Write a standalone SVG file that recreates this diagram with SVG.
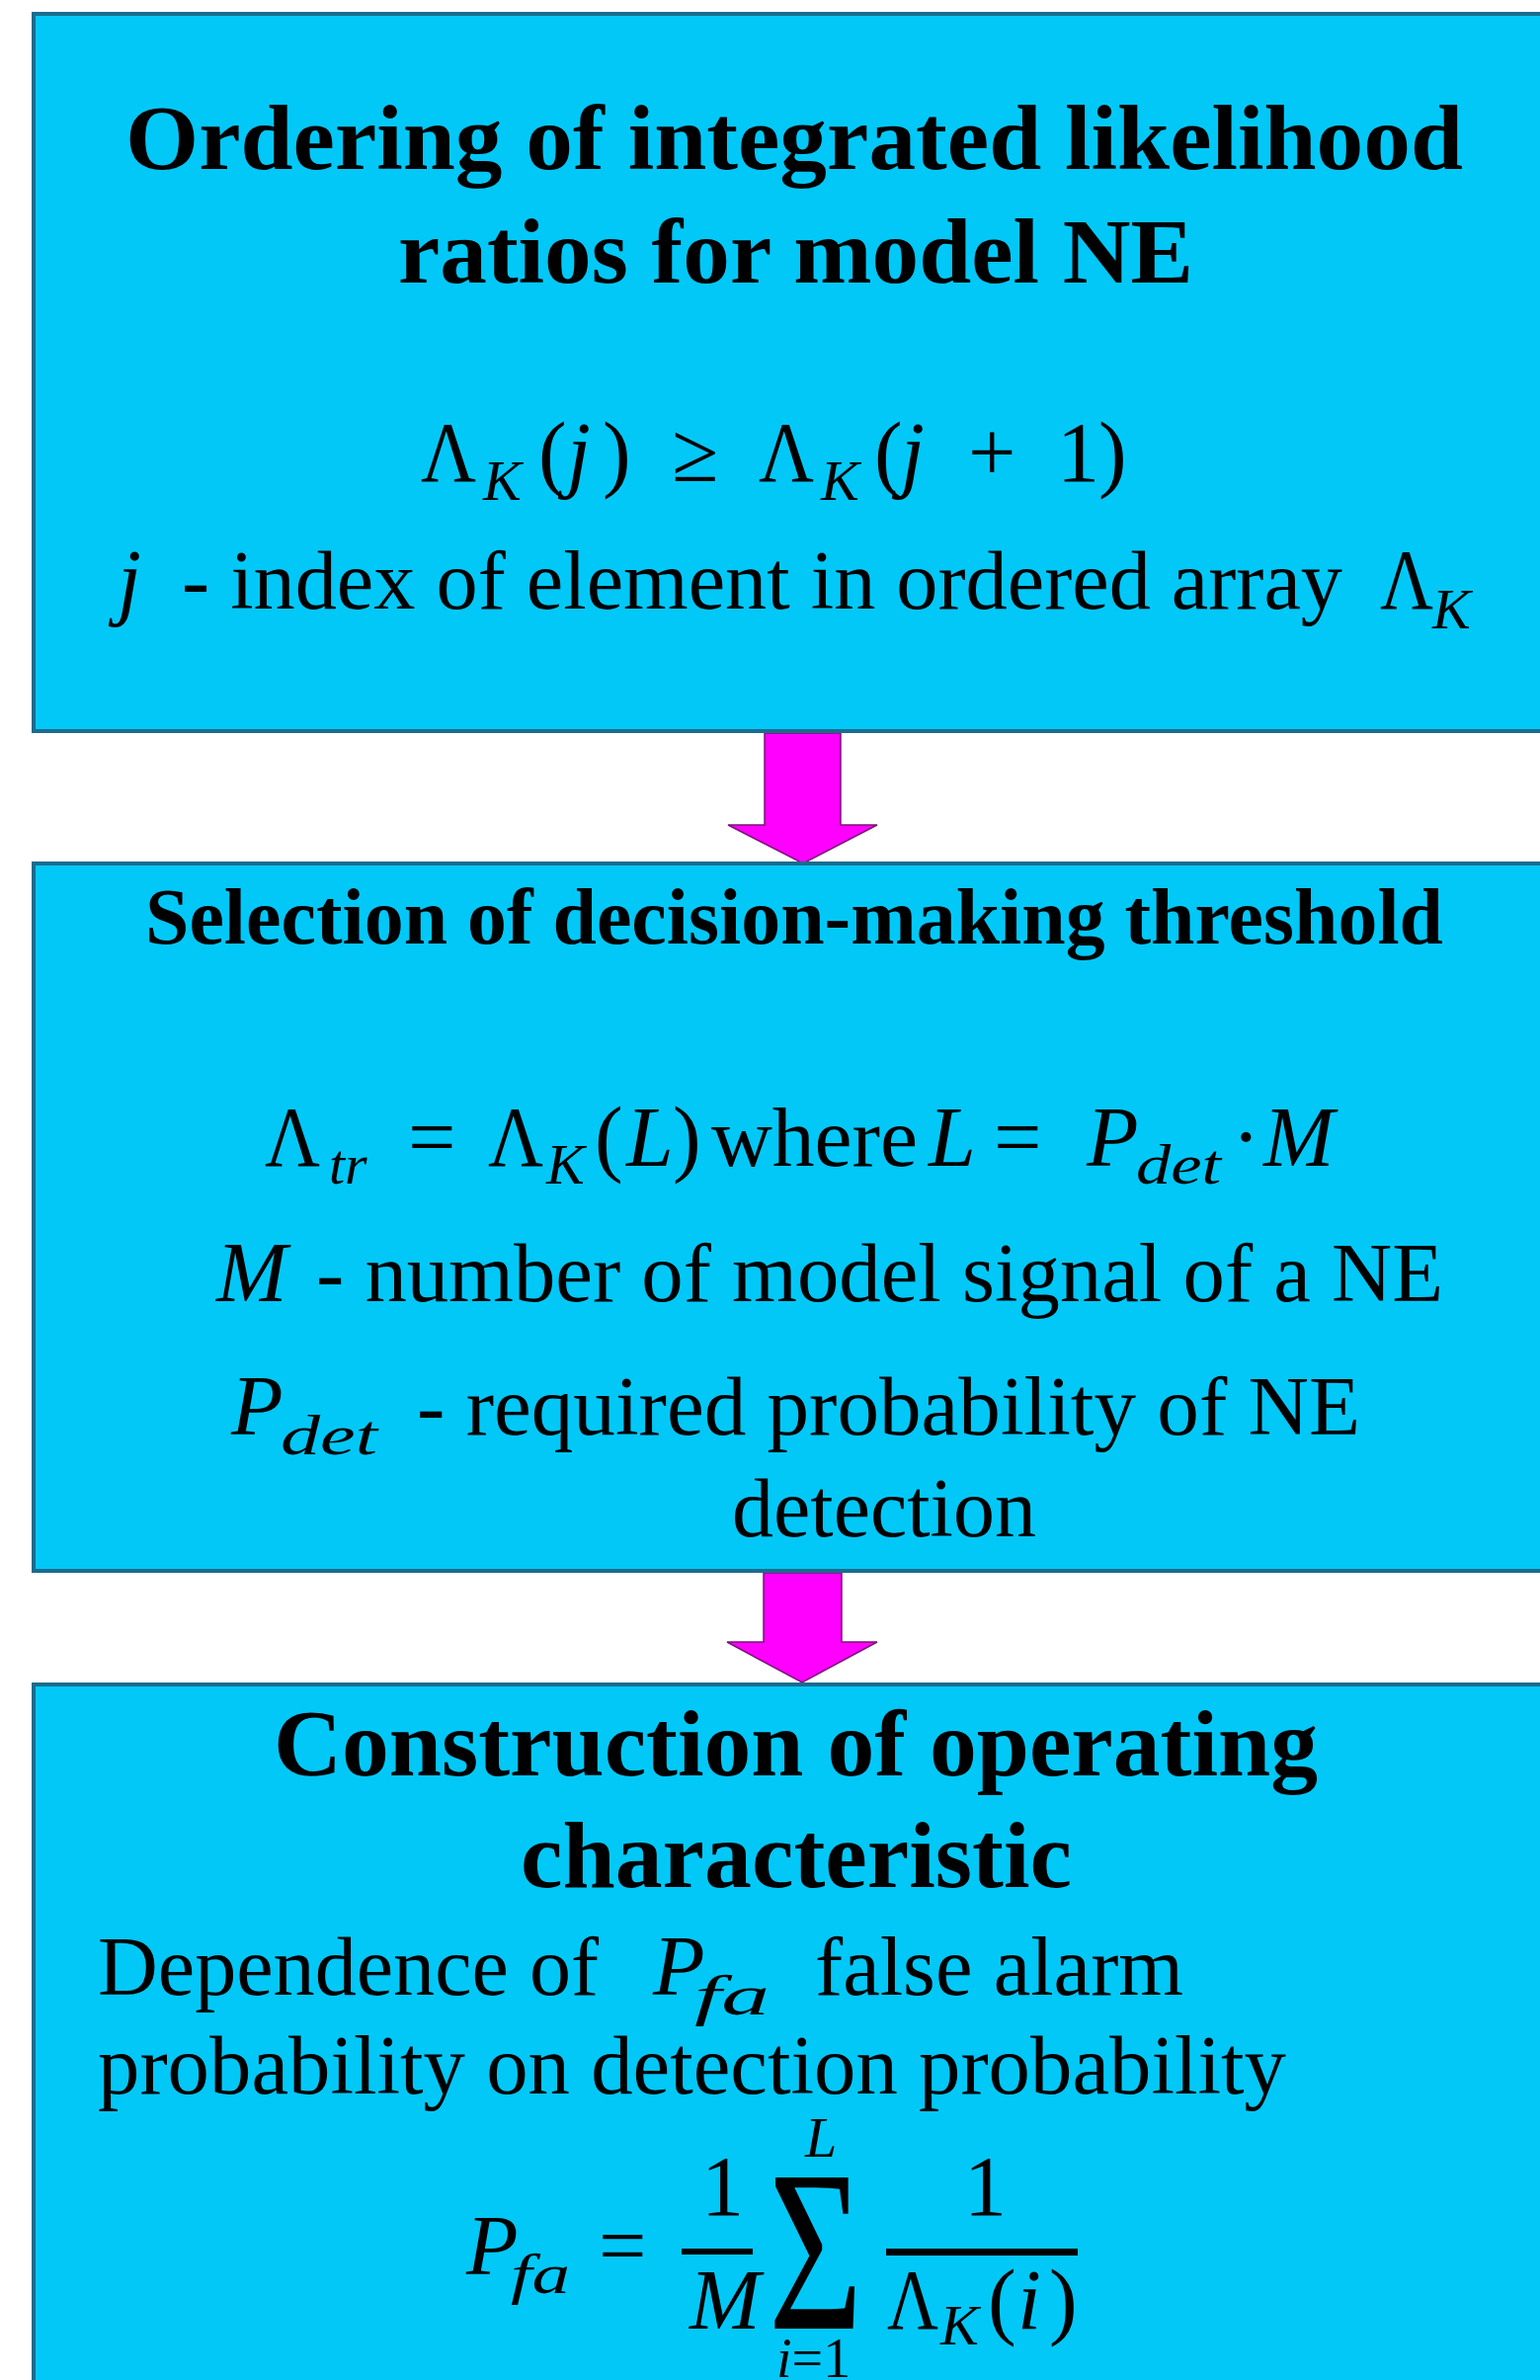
<svg xmlns="http://www.w3.org/2000/svg" width="1559" height="2409" viewBox="0 0 1559 2409">
<style>
.box{fill:#02C8F8;stroke:#1B6C8E;stroke-width:4}
.arr{fill:#FF00FF;stroke:#7A1478;stroke-width:1.5}
text{font-family:"Liberation Serif","Times New Roman",serif;fill:#000}
.b{font-weight:bold}
.i{font-style:italic}
.r{font-size:85px}
.m{font-size:86px}
.s{font-size:58px;font-style:italic}
</style>
<rect width="1559" height="2409" fill="#FFFFFF"/>
<g id="connectors">
<path class="arr" d="M774,742 L851,742 L851,835 L888,835 L813,874 L737,835 L774,835 Z"/>
<path class="arr" d="M773,1592 L852,1592 L852,1662 L888,1662 L812,1703 L736,1662 L773,1662 Z"/>
</g>
<g id="node1">
<rect class="box" x="34" y="14" width="1560" height="726"/>
<text class="b" x="127" y="171" font-size="93" textLength="1354" lengthAdjust="spacingAndGlyphs">Ordering of integrated likelihood</text>
<text class="b" x="403" y="286" font-size="93" textLength="805" lengthAdjust="spacingAndGlyphs">ratios for model NE</text>
<text class="m" x="426" y="487" textLength="56" lengthAdjust="spacingAndGlyphs">Λ</text>
<text class="m" y="487"><tspan x="545">(</tspan><tspan x="574" class="i">j</tspan><tspan x="610">)</tspan><tspan x="680">≥</tspan><tspan x="885">(</tspan><tspan x="912" class="i">j</tspan><tspan x="980">+</tspan><tspan x="1070">1</tspan><tspan x="1112">)</tspan></text>
<text class="m" x="768" y="487" textLength="56" lengthAdjust="spacingAndGlyphs">Λ</text>
<text class="s" y="506"><tspan x="489">K</tspan><tspan x="831">K</tspan></text>
<text class="m i" x="119" y="616">j</text>
<text class="r" x="184" y="616" textLength="1175" lengthAdjust="spacingAndGlyphs">- index of element in ordered array</text>
<text class="m" x="1397" y="616" textLength="54" lengthAdjust="spacingAndGlyphs">Λ</text>
<text class="s" x="1450" y="636">K</text>
</g>
<g id="node2">
<rect class="box" x="34" y="874" width="1560" height="716"/>
<text class="b" x="147" y="955" font-size="80" textLength="1314" lengthAdjust="spacingAndGlyphs">Selection of decision-making threshold</text>
<text class="m" x="268" y="1180" textLength="56" lengthAdjust="spacingAndGlyphs">Λ</text>
<text class="m" x="494" y="1180" textLength="56" lengthAdjust="spacingAndGlyphs">Λ</text>
<text class="m" y="1180"><tspan x="413">=</tspan><tspan x="602">(</tspan><tspan x="634" class="i">L</tspan><tspan x="681">)</tspan><tspan x="940" class="i">L</tspan><tspan x="1006">=</tspan><tspan x="1100" class="i">P</tspan><tspan x="1247">·</tspan><tspan x="1279" class="i">M</tspan></text>
<text class="r" x="720" y="1180" textLength="209" lengthAdjust="spacingAndGlyphs">where</text>
<text class="s" y="1198"><tspan x="333">tr</tspan><tspan x="553">K</tspan></text>
<text class="s" x="1150" y="1198" font-size="62" textLength="86" lengthAdjust="spacingAndGlyphs">det</text>
<text class="m i" x="219" y="1317">M</text>
<text class="r" x="320" y="1317" textLength="1141" lengthAdjust="spacingAndGlyphs">- number of model signal of a NE</text>
<text class="m i" x="234" y="1452">P</text>
<text class="s" x="284" y="1472" font-size="72" textLength="98" lengthAdjust="spacingAndGlyphs">det</text>
<text class="r" x="422" y="1452" textLength="955" lengthAdjust="spacingAndGlyphs">- required probability of NE</text>
<text class="r" x="741" y="1555" textLength="308" lengthAdjust="spacingAndGlyphs">detection</text>
</g>
<g id="node3">
<rect class="box" x="34" y="1705" width="1560" height="740"/>
<text class="b" x="277" y="1797" font-size="96" textLength="1057" lengthAdjust="spacingAndGlyphs">Construction of operating</text>
<text class="b" x="527" y="1910" font-size="96" textLength="558" lengthAdjust="spacingAndGlyphs">characteristic</text>
<text class="r" x="99" y="2019" textLength="507" lengthAdjust="spacingAndGlyphs">Dependence of</text>
<text class="m i" x="661" y="2019">P</text>
<text class="s" x="703" y="2039" font-size="68" textLength="76" lengthAdjust="spacingAndGlyphs">fa</text>
<text class="r" x="825" y="2019" textLength="373" lengthAdjust="spacingAndGlyphs">false alarm</text>
<text class="r" x="99" y="2119" textLength="1203" lengthAdjust="spacingAndGlyphs">probability on detection probability</text>
<text class="m i" x="472" y="2302">P</text>
<text class="s" x="517" y="2321" textLength="60" lengthAdjust="spacingAndGlyphs">fa</text>
<text class="m" x="606" y="2302">=</text>
<text class="m" x="710" y="2242">1</text>
<rect x="690" y="2276" width="72" height="6" fill="#000"/>
<text class="m i" x="698" y="2357">M</text>
<text font-size="140" transform="translate(778,2357) scale(1.17,1.66)">Σ</text>
<text class="s" x="815" y="2183">L</text>
<text font-size="56" x="786" y="2406"><tspan class="i">i</tspan>=1</text>
<text class="m" x="976" y="2242">1</text>
<rect x="897" y="2276" width="194" height="7" fill="#000"/>
<text class="m" x="898" y="2357" textLength="52" lengthAdjust="spacingAndGlyphs">Λ</text>
<text class="m" y="2357"><tspan x="1000">(</tspan><tspan x="1030" class="i">i</tspan><tspan x="1062">)</tspan></text>
<text class="s" x="952" y="2373">K</text>
</g>
</svg>
